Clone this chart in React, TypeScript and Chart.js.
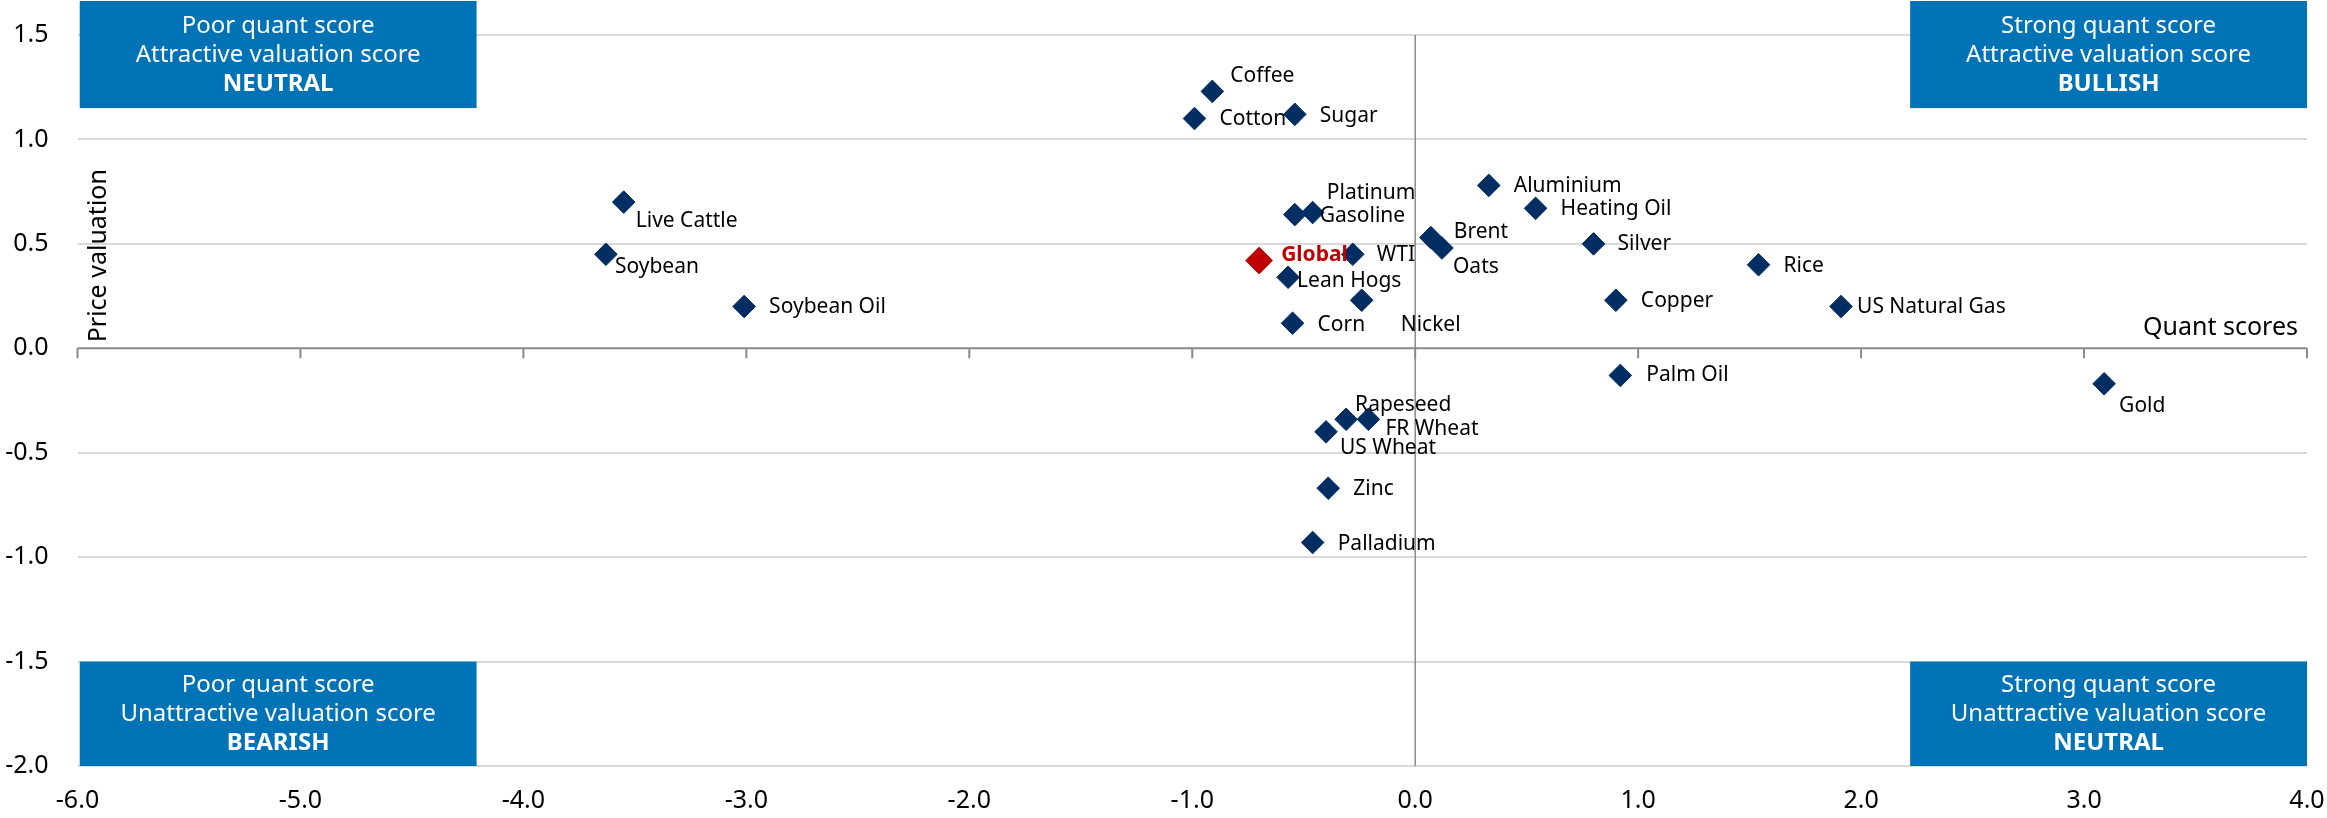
import { useEffect, useRef } from "react";
import { Chart, registerables } from "chart.js";

Chart.register(...registerables);

// Commodity quant scores (x) against price valuation scores (y)
const commodities = [
  "Coffee", "Cotton", "Sugar", "Platinum", "Gasoline", "Aluminium", "Heating Oil",
  "Brent", "Oats", "Silver", "Rice", "WTI", "Lean Hogs", "Nickel", "Corn", "Copper",
  "US Natural Gas", "Palm Oil", "Gold", "Rapeseed", "FR Wheat", "US Wheat", "Zinc",
  "Palladium", "Live Cattle", "Soybean", "Soybean Oil",
];
const quantScores = [
  -0.91, -0.99, -0.54, -0.54, -0.46, 0.33, 0.54,
  0.07, 0.12, 0.8, 1.54, -0.28, -0.57, -0.24, -0.55, 0.9,
  1.91, 0.92, 3.09, -0.31, -0.21, -0.4, -0.39,
  -0.46, -3.55, -3.63, -3.01,
];
const priceValuations = [
  1.23, 1.1, 1.12, 0.64, 0.65, 0.78, 0.67,
  0.53, 0.48, 0.5, 0.4, 0.45, 0.34, 0.23, 0.12, 0.23,
  0.2, -0.13, -0.17, -0.34, -0.34, -0.4, -0.67,
  -0.93, 0.7, 0.45, 0.2,
];

// Aggregate index
const globalNames = ["Global"];
const globalQuant = [-0.7];
const globalValuation = [0.42];

// Axis ticks
const xTickValues = [-6, -5, -4, -3, -2, -1, 0, 1, 2, 3, 4];
const yTickValues = [-2, -1.5, -1, -0.5, 0, 0.5, 1, 1.5];

// Quadrant captions: top-left, top-right, bottom-left, bottom-right
const quadrantCaptions = [
  ["Poor quant score", "Attractive valuation score", "NEUTRAL"],
  ["Strong quant score", "Attractive valuation score", "BULLISH"],
  ["Poor quant score", "Unattractive valuation score", "BEARISH"],
  ["Strong quant score", "Unattractive valuation score", "NEUTRAL"],
];

// ---- presentation ----
const FONT = '"Noto Sans", "Open Sans", sans-serif';
const NAVY = "#002D62";
const RED = "#C00000";
const BOX_BLUE = "#0072B6";

// Caption box extents in axis units [xMin, xMax, yTop, yBottom]
const captionBoxes = [
  [-5.99, -4.21, 1.663, 1.15],
  [2.22, 4.0, 1.663, 1.15],
  [-5.99, -4.21, -1.5, -2.0],
  [2.22, 4.0, -1.5, -2.0],
];

// Label placement relative to each marker, in pixels [dx, dy]
const labelOffsets: Record<string, [number, number]> = {
  Coffee: [18, -15],
  Cotton: [25, 0],
  Sugar: [25, 2],
  Platinum: [32, -22],
  Gasoline: [7, 3],
  Aluminium: [25, 1],
  "Heating Oil": [25, 1],
  Brent: [23, -6],
  Oats: [11, 19],
  Silver: [24, 0],
  Rice: [25, 1],
  WTI: [24, 1],
  "Lean Hogs": [9, 4],
  Nickel: [39, 25],
  Corn: [25, 2],
  Copper: [25, 1],
  "US Natural Gas": [16, 1],
  "Palm Oil": [26, 0],
  Gold: [15, 22],
  Rapeseed: [9, -14],
  "FR Wheat": [17, 10],
  "US Wheat": [14, 16],
  Zinc: [25, 1],
  Palladium: [25, 1],
  "Live Cattle": [12, 19],
  Soybean: [9, 13],
  "Soybean Oil": [25, 1],
  Global: [22, -6],
};

const captionBoxesPlugin = {
  id: "captionBoxes",
  beforeDatasetsDraw(chart: any) {
    const { ctx, scales } = chart;
    const { x, y } = scales;
    ctx.save();
    captionBoxes.forEach((b, i) => {
      const left = x.getPixelForValue(b[0]);
      const right = x.getPixelForValue(b[1]);
      const top = y.getPixelForValue(b[2]);
      const bottom = y.getPixelForValue(b[3]);
      ctx.fillStyle = BOX_BLUE;
      ctx.fillRect(left, top, right - left, bottom - top);
      const cx = (left + right) / 2;
      const cy = (top + bottom) / 2;
      ctx.fillStyle = "#ffffff";
      ctx.textAlign = "center";
      ctx.textBaseline = "alphabetic";
      quadrantCaptions[i].forEach((line, j) => {
        ctx.font = (j === 2 ? "bold " : "") + "24px " + FONT;
        ctx.fillText(line, cx, cy + 7.5 + (j - 1) * 29);
      });
    });
    ctx.restore();
  },
};

const crossAxesPlugin = {
  id: "crossAxes",
  beforeDatasetsDraw(chart: any) {
    const { ctx, chartArea, scales } = chart;
    const { x, y } = scales;
    const x0 = x.getPixelForValue(0);
    const y0 = y.getPixelForValue(0);
    ctx.save();
    ctx.strokeStyle = "#8a8a8a";
    ctx.lineWidth = 1.5;
    ctx.beginPath();
    ctx.moveTo(x0, chartArea.top);
    ctx.lineTo(x0, chartArea.bottom);
    ctx.stroke();
    ctx.lineWidth = 2;
    ctx.beginPath();
    ctx.moveTo(chartArea.left, y0);
    ctx.lineTo(chartArea.right, y0);
    xTickValues.forEach((v) => {
      const px = x.getPixelForValue(v);
      ctx.moveTo(px, y0);
      ctx.lineTo(px, y0 + 10);
    });
    ctx.stroke();

    // axis titles
    ctx.fillStyle = "#000000";
    ctx.font = "25px " + FONT;
    ctx.textAlign = "right";
    ctx.textBaseline = "alphabetic";
    ctx.fillText("Quant scores", chartArea.right - 9, y0 - 13);
    ctx.save();
    ctx.translate(chartArea.left + 28, y0 - 6);
    ctx.rotate(-Math.PI / 2);
    ctx.textAlign = "left";
    ctx.fillText("Price valuation", 0, 0);
    ctx.restore();
    ctx.restore();
  },
};

const pointLabelsPlugin = {
  id: "pointLabels",
  afterDatasetsDraw(chart: any) {
    const { ctx } = chart;
    ctx.save();
    ctx.textAlign = "left";
    ctx.textBaseline = "middle";
    chart.data.datasets.forEach((ds: any, di: number) => {
      const meta = chart.getDatasetMeta(di);
      meta.data.forEach((el: any, i: number) => {
        const name = ds.names[i];
        const off = labelOffsets[name] || [20, 0];
        ctx.font = (ds.boldLabels ? "bold " : "") + "21px " + FONT;
        ctx.fillStyle = ds.labelColor;
        ctx.fillText(name, el.x + off[0], el.y + off[1]);
      });
    });
    ctx.restore();
  },
};

export default function App() {
  const canvasRef = useRef<HTMLCanvasElement | null>(null);

  useEffect(() => {
    if (!canvasRef.current) return;
    Chart.defaults.font.family = FONT;

    const chart = new Chart(canvasRef.current, {
      type: "scatter",
      data: {
        datasets: [
          {
            label: "Commodities",
            data: commodities.map((_, i) => ({ x: quantScores[i], y: priceValuations[i] })),
            names: commodities,
            labelColor: "#000000",
            boldLabels: false,
            backgroundColor: NAVY,
            borderColor: NAVY,
            borderWidth: 1,
            pointStyle: "rectRot",
            pointRadius: 11.3,
          } as any,
          {
            label: "Global",
            data: globalNames.map((_, i) => ({ x: globalQuant[i], y: globalValuation[i] })),
            names: globalNames,
            labelColor: RED,
            boldLabels: true,
            backgroundColor: RED,
            borderColor: RED,
            borderWidth: 1,
            pointStyle: "rectRot",
            pointRadius: 13.4,
          } as any,
        ],
      },
      options: {
        responsive: false,
        animation: false,
        devicePixelRatio: 1,
        layout: { padding: { top: 35, right: 20, left: 0, bottom: 0 } },
        plugins: {
          legend: { display: false },
          tooltip: { enabled: false },
        },
        events: [],
        scales: {
          x: {
            type: "linear",
            position: "bottom",
            min: -6,
            max: 4,
            afterBuildTicks: (s: any) => {
              s.ticks = xTickValues.map((v) => ({ value: v }));
            },
            afterFit: (s: any) => {
              s.height = 52;
              s.paddingLeft = 0;
              s.paddingRight = 0;
            },
            ticks: {
              autoSkip: false,
              maxRotation: 0,
              padding: 20,
              color: "#000000",
              font: { size: 25, family: FONT },
              callback: (v: any) => Number(v).toFixed(1),
            },
            grid: { display: false, drawTicks: false },
            border: { display: false },
          },
          y: {
            type: "linear",
            position: "left",
            min: -2,
            max: 1.5,
            afterBuildTicks: (s: any) => {
              s.ticks = yTickValues.map((v) => ({ value: v }));
            },
            afterFit: (s: any) => {
              s.width = 77.5;
              s.paddingTop = 0;
              s.paddingBottom = 0;
            },
            ticks: {
              autoSkip: false,
              padding: 29,
              color: "#000000",
              font: { size: 25, family: FONT },
              callback: (v: any) => Number(v).toFixed(1),
            },
            grid: {
              drawTicks: false,
              lineWidth: 2,
              color: (c: any) => (c.tick && c.tick.value === 0 ? "rgba(0,0,0,0)" : "#d9d9d9"),
            },
            border: { display: false },
          },
        },
      } as any,
      plugins: [captionBoxesPlugin, crossAxesPlugin, pointLabelsPlugin],
    });

    return () => chart.destroy();
  }, []);

  return (
    <div style={{ position: "absolute", left: 0, top: 0, width: 2327, height: 818, background: "#ffffff" }}>
      <canvas ref={canvasRef} width={2327} height={818} style={{ display: "block" }} />
    </div>
  );
}
